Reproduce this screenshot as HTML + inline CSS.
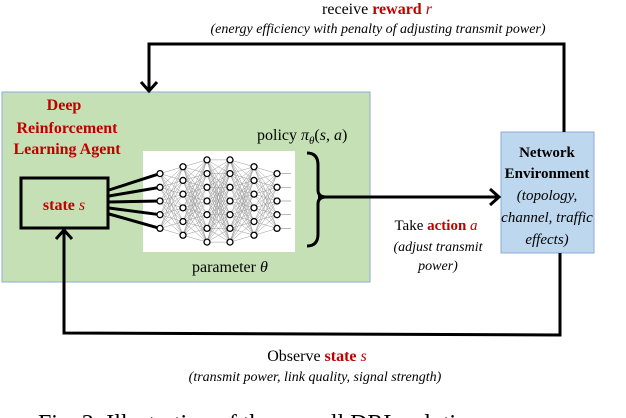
<!DOCTYPE html>
<html><head><meta charset="utf-8"><style>
html,body{margin:0;padding:0;background:#fff;width:626px;height:418px;overflow:hidden}
svg{display:block}
text{font-family:"Liberation Serif",serif}
</style></head><body>
<svg id="s" width="626" height="418" viewBox="0 0 626 418" xmlns="http://www.w3.org/2000/svg">
<rect x="2" y="92" width="368" height="190" fill="#c5e0b4" stroke="#8faadc" stroke-width="1"/>
<rect x="501" y="132" width="93" height="121" fill="#bdd7ee" stroke="#8faadc" stroke-width="1"/>
<polyline points="564,132 564,44 149,44 149,90" fill="none" stroke="#000" stroke-width="3"/>
<polyline points="141,82 149,91 157,82" fill="none" stroke="#000" stroke-width="3"/>
<polyline points="560,253 560,335 64,333 64,230" fill="none" stroke="#000" stroke-width="3"/>
<polyline points="56,239 64,230 72,239" fill="none" stroke="#000" stroke-width="3"/>
<line x1="318" y1="197" x2="498" y2="197" stroke="#000" stroke-width="3"/>
<polyline points="490,189 499,197 490,205" fill="none" stroke="#000" stroke-width="3"/>
<path d="M307,153 Q318,153 318,165 L318,190 Q318,197 326,197 Q318,197 318,204 L318,234 Q318,246 307,246" fill="none" stroke="#000" stroke-width="3"/>
<rect x="21" y="178" width="87" height="50" fill="#c5e0b4" stroke="#000" stroke-width="3"/>
<text x="64" y="210" text-anchor="middle" font-size="16" font-weight="bold" fill="#c00000">state <tspan font-style="italic" font-weight="normal">s</tspan></text>
<rect x="143" y="151" width="152" height="101" fill="#fff"/>
<g id="nn"></g>
<text x="64" y="110" text-anchor="middle" font-size="16" font-weight="bold" fill="#c00000">Deep</text>
<text x="67" y="133" text-anchor="middle" font-size="16" font-weight="bold" fill="#c00000">Reinforcement</text>
<text x="67" y="154" text-anchor="middle" font-size="16" font-weight="bold" fill="#c00000">Learning Agent</text>
<text x="257" y="140" font-size="16">policy <tspan font-style="italic">π</tspan><tspan font-style="italic" font-size="11" dy="4">θ</tspan><tspan dy="-4">(</tspan><tspan font-style="italic">s</tspan>, <tspan font-style="italic">a</tspan>)</text>
<text x="192" y="272" font-size="16">parameter <tspan font-style="italic">θ</tspan></text>
<text x="547" y="157" text-anchor="middle" font-size="15" font-weight="bold">Network</text>
<text x="547" y="178" text-anchor="middle" font-size="15" font-weight="bold">Environment</text>
<text x="547" y="200" text-anchor="middle" font-size="15" font-style="italic">(topology,</text>
<text x="547" y="222" text-anchor="middle" font-size="15" font-style="italic">channel, traffic</text>
<text x="547" y="244" text-anchor="middle" font-size="15" font-style="italic">effects)</text>
<text x="436" y="230" text-anchor="middle" font-size="15">Take <tspan font-weight="bold" fill="#c00000">action</tspan> <tspan font-style="italic" fill="#c00000">a</tspan></text>
<text x="438" y="251" text-anchor="middle" font-size="14" font-style="italic">(adjust transmit</text>
<text x="438" y="270" text-anchor="middle" font-size="14" font-style="italic">power)</text>
<text x="377" y="14" text-anchor="middle" font-size="16">receive <tspan font-weight="bold" fill="#c00000">reward</tspan> <tspan font-style="italic" fill="#c00000">r</tspan></text>
<text x="378" y="33" text-anchor="middle" font-size="14" font-style="italic">(energy efficiency with penalty of adjusting transmit power)</text>
<text x="317" y="361" text-anchor="middle" font-size="16">Observe <tspan font-weight="bold" fill="#c00000">state</tspan> <tspan font-style="italic" fill="#c00000">s</tspan></text>
<text x="315" y="381" text-anchor="middle" font-size="14" font-style="italic">(transmit power, link quality, signal strength)</text>
<text x="38" y="431" font-size="24" textLength="442">Fig. 3: Illustration of the overall DRL solution</text>
</svg>
<script>
(function(){
var g=document.getElementById('nn'),ns='http://www.w3.org/2000/svg';
var xs=[160,183,207,230,254,277],cnt=[5,6,7,7,6,5],L=[];
for(var i=0;i<6;i++){var n=cnt[i],a=[],t0=201-(n-1)*13.7/2;for(var j=0;j<n;j++)a.push(t0+j*13.7);L.push(a);}
function el(t,o){var e=document.createElementNS(ns,t);for(var k in o)e.setAttribute(k,o[k]);g.appendChild(e);return e;}
for(var i=0;i<5;i++)for(var a=0;a<L[i].length;a++)for(var b=0;b<L[i+1].length;b++)el('line',{x1:xs[i],y1:L[i][a],x2:xs[i+1],y2:L[i+1][b],stroke:'#999','stroke-width':0.5});
for(var j=0;j<5;j++){el('line',{x1:277,y1:L[5][j],x2:291,y2:L[5][j],stroke:'#999','stroke-width':0.7});el('line',{x1:109,y1:190+j*6,x2:160,y2:L[0][j],stroke:'#000','stroke-width':3});}
for(var i=0;i<6;i++)for(var j=0;j<L[i].length;j++)el('circle',{cx:xs[i],cy:L[i][j],r:3,fill:'#fff',stroke:'#000','stroke-width':1.3});
})();
</script>
</body></html>
